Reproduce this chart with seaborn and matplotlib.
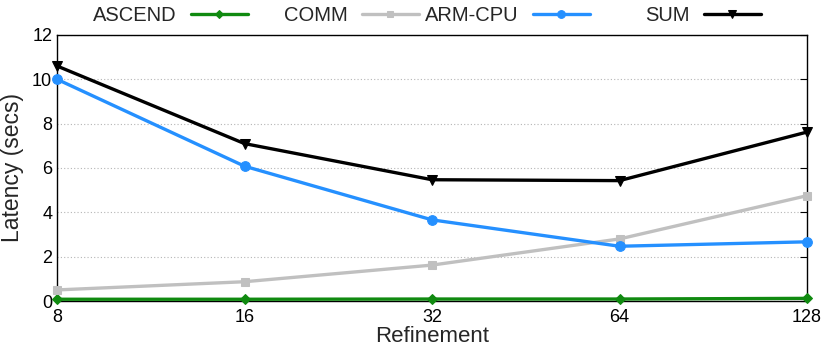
import numpy as np
import pandas as pd
import seaborn as sns
import matplotlib.pyplot as plt

sns.set_style('white')
plt.rcParams['font.family'] = ['Liberation Sans', 'DejaVu Sans']

refinement = [8, 16, 32, 64, 128]
ascend = [0.08, 0.08, 0.09, 0.09, 0.12]
comm = [0.50, 0.87, 1.62, 2.80, 4.75]
arm_cpu = [10.0, 6.08, 3.66, 2.47, 2.67]
total = [10.6, 7.10, 5.47, 5.43, 7.62]

series = [
    ('ASCEND', ascend, '#108a10', 'D', 5),
    ('COMM', comm, '#c0c0c0', 's', 6),
    ('ARM-CPU', arm_cpu, '#2590ff', 'o', 7),
    ('SUM', total, '#000000', 'v', 7),
]

fig = plt.figure(figsize=(8.3, 3.46), dpi=100)
ax = fig.add_axes([0.0687, 0.130, 0.9036, 0.769])

for name, vals, col, mk, ms in series:
    df = pd.DataFrame({'x': refinement, 'y': vals})
    sns.lineplot(data=df, x='x', y='y', ax=ax, color=col, marker=mk,
                 markersize=ms, markeredgecolor=col, linewidth=2.4, label=name,
                 clip_on=False, zorder=3)

ax.set_xscale('log', base=2)
ax.set_xlim(8, 128)
ax.set_ylim(0, 12)
ax.set_xticks(refinement)
ax.set_xticklabels([str(v) for v in refinement])
ax.minorticks_off()
ax.set_yticks(range(0, 13, 2))
ax.yaxis.grid(True, linestyle=(0, (1, 2)), color='#b5b5b5', linewidth=0.8)
for s in ax.spines.values():
    s.set_color('black')
    s.set_linewidth(1.0)
ax.tick_params(axis='both', direction='in', length=5, labelsize=13,
               colors='black')
ax.tick_params(axis='y', right=True)
ax.tick_params(axis='x', pad=6)
ax.set_xlabel('Refinement', fontsize=16, labelpad=0)
ax.set_ylabel('Latency (secs)', fontsize=16.5, labelpad=6)

# gnuplot-style key: fixed-width slots, text right-aligned before the sample
handles, labels = ax.get_legend_handles_labels()
ax.get_legend().remove()
for i, (h, l) in enumerate(zip(handles, labels)):
    x_end = (248 + 171 * i) / 830
    leg = fig.legend([h], [l], loc='center right',
                     bbox_to_anchor=(x_end, 1 - 15.5 / 346),
                     frameon=False, markerfirst=False, fontsize=14.5,
                     handlelength=2.85, handletextpad=0.7, borderpad=0,
                     borderaxespad=0, markerscale=0.8)

fig.savefig('out.png', dpi=100)
